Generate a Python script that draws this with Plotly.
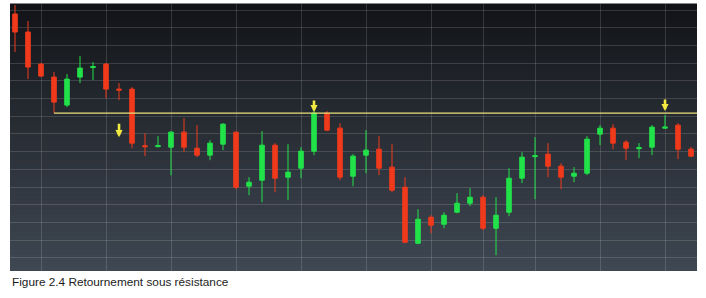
import plotly.graph_objects as go

# ---- data (price units, arbitrary scale) ----
idx = list(range(53))
opens = [286, 268, 236, 223, 195, 223, 232.5, 236, 211, 211,
         154.5, 153.5, 153, 168, 152, 145, 156, 168, 114, 120,
         155, 123, 132, 149, 187, 172, 124, 145, 151, 133,
         113, 57, 83, 76, 88, 97, 103, 72, 88, 122,
         143.5, 146, 134, 124, 127, 166, 172, 158, 151.5, 153,
         172, 175, 151]
highs = [295, 279, 237, 228, 226, 244, 238, 237, 217, 213,
         167, 164, 169, 182, 175, 160, 177, 168.5, 123, 169,
         157, 156, 153, 189, 189, 177, 146, 170, 164, 156,
         123, 91, 85, 88, 107, 112, 105, 103, 132, 148,
         163, 157, 137, 133, 164, 175, 176, 160, 157, 175,
         185, 177, 153]
lows = [248, 221, 223, 187, 193, 217, 220, 202, 200, 152,
        144, 153, 125, 148, 143, 140, 150, 111, 105, 98,
        108, 100, 122, 145, 169, 120, 114, 127, 125, 108,
        57, 56, 67, 72, 87, 94, 70, 45, 84, 117,
        101, 123, 111, 118, 125, 155, 151, 140, 142, 145,
        171.5, 141, 143]
closes = [268, 233, 224, 198, 221, 232, 233.5, 211, 210, 157,
          153.5, 154.5, 168, 153, 145, 157, 176, 113, 118, 155,
          122, 128, 149, 187, 170, 123, 144, 150, 132, 110,
          58, 81, 75, 85, 97, 103, 72, 85, 122, 143,
          144.5, 134, 123, 127, 161, 172, 157, 152, 152.5, 173,
          173, 151, 144]

grid_candles = [2, 7, 12, 17, 22, 27, 32, 36, 40, 45, 50]
resistance = 187
resistance_start = 3
arrow_candles = [8, 23, 50]
arrow_tips = [163, 188, 189]
arrow_tails = [178, 201, 202]
caption = "Figure 2.4 Retournement sous résistance"

RED = "#f03a1c"
GREEN = "#22e24a"
YELLOW = "#f2ea3e"

x_range = [-0.385, 52.46]
y_range = [29.3, 296]

fig = go.Figure()
fig.add_trace(go.Candlestick(
    x=idx, open=opens, high=highs, low=lows, close=closes,
    increasing=dict(line=dict(color=GREEN, width=1), fillcolor=GREEN),
    decreasing=dict(line=dict(color=RED, width=1), fillcolor=RED),
    whiskerwidth=0, showlegend=False, hoverinfo="skip",
))

shapes = []
# vertical gradient background
top = (17, 19, 23)
mid = (42, 47, 55)
bot = (62, 71, 82)
n = 60
for i in range(n):
    t = (i + 0.5) / n  # 0 bottom -> 1 top
    if t < 0.5:
        u = t / 0.5
        c = [bot[k] + (mid[k] - bot[k]) * u for k in range(3)]
    else:
        u = (t - 0.5) / 0.5
        c = [mid[k] + (top[k] - mid[k]) * u for k in range(3)]
    shapes.append(dict(type="rect", xref="paper", yref="paper",
                       x0=0, x1=1, y0=i / n, y1=(i + 1) / n + 0.002,
                       fillcolor="rgb(%d,%d,%d)" % tuple(int(round(v)) for v in c),
                       line=dict(width=0), layer="below"))
shapes.append(dict(type="line", xref="x", yref="y",
                   x0=resistance_start, x1=x_range[1], y0=resistance, y1=resistance,
                   line=dict(color="#ece27a", width=1.2), layer="above"))

annotations = []
for xc, tip, tail in zip(arrow_candles, arrow_tips, arrow_tails):
    annotations.append(dict(x=xc, y=tip, ax=xc, ay=tail, xref="x", yref="y",
                            axref="x", ayref="y", text="", showarrow=True,
                            arrowhead=2, arrowsize=0.55, arrowwidth=2.6,
                            arrowcolor=YELLOW, standoff=0, startstandoff=0))
annotations.append(dict(text=caption, xref="paper", yref="paper", x=0, y=-0.042,
                        xanchor="left", yanchor="middle", showarrow=False,
                        font=dict(family="Liberation Sans, Arial, sans-serif", size=11.8, color="#1c1c1c")))

fig.update_layout(
    width=706, height=298,
    margin=dict(l=10, r=9, t=4, b=27, pad=0),
    paper_bgcolor="white", plot_bgcolor="rgb(42,47,55)",
    shapes=shapes, annotations=annotations,
    boxgap=0.5,
    xaxis=dict(range=x_range, showticklabels=False, ticks="", tickvals=grid_candles,
               showgrid=True, gridcolor="rgba(255,255,255,0.14)", gridwidth=1,
               zeroline=False, showline=False, rangeslider=dict(visible=False), fixedrange=True),
    yaxis=dict(range=y_range, showticklabels=False, ticks="", tick0=290, dtick=17.69,
               showgrid=True, gridcolor="rgba(255,255,255,0.14)", gridwidth=1,
               zeroline=False, showline=False, fixedrange=True),
    hovermode=False,
)

fig.write_html("out.html")
